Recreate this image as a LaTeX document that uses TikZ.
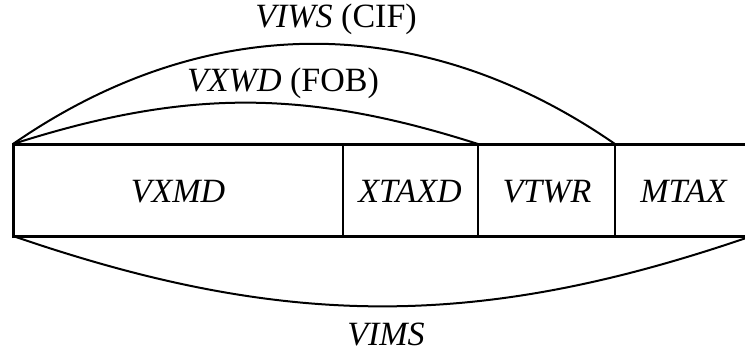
\documentclass[tikz,border=0pt]{standalone}
\usepackage{fontspec}
\setmainfont{Liberation Serif}
\begin{document}
\begin{tikzpicture}[x=1pt,y=1pt,
  lbl/.style={font=\fontsize{34}{40}\selectfont, inner sep=0pt, anchor=base},
  frame/.style={line width=3pt, line join=miter},
  divider/.style={line width=2.6pt},
  span/.style={line width=2pt}]
\useasboundingbox (0,0) rectangle (745,-353);
\clip (0,0) rectangle (745,-353);
% frame corners and dividers
\coordinate (tl) at (13,-144);
\coordinate (bl) at (13,-236);
\coordinate (tr) at (770,-144);
\coordinate (br) at (770,-236);
\coordinate (d1t) at (343,-144);
\coordinate (d1b) at (343,-236);
\coordinate (d2t) at (478,-144);
\coordinate (d2b) at (478,-236);
\coordinate (d3t) at (615,-144);
\coordinate (d3b) at (615,-236);
\coordinate (vimsend) at (752,-236);
\draw[frame] (tr) -- (tl) -- (bl) -- (br);
\draw[divider] (d1t) -- (d1b);
\draw[divider] (d2t) -- (d2b);
\draw[divider] (d3t) -- (d3b);
% cell labels
\node[lbl] (vxmd) at (178,-202) {\textit{VXMD}};
\node[lbl] (xtaxd) at (410,-202) {\textit{XTAXD}};
\node[lbl] (vtwr) at (547,-202) {\textit{VTWR}};
\node[lbl] (mtax) at (684,-202) {\textit{MTAX}};
% spans
\draw[span] (tl) to[bend left=34.7] (d3t);
\draw[span] (tl) to[bend left=17.7] (d2t);
\draw[span] (bl) to[bend right=19] (vimsend);
\node[lbl] (viws) at (336,-28) {\textit{VIWS} (CIF)};
\node[lbl] (vxwd) at (283,-92) {\textit{VXWD} (FOB)};
\node[lbl] (vims) at (386,-345) {\textit{VIMS}};
\end{tikzpicture}
\end{document}
